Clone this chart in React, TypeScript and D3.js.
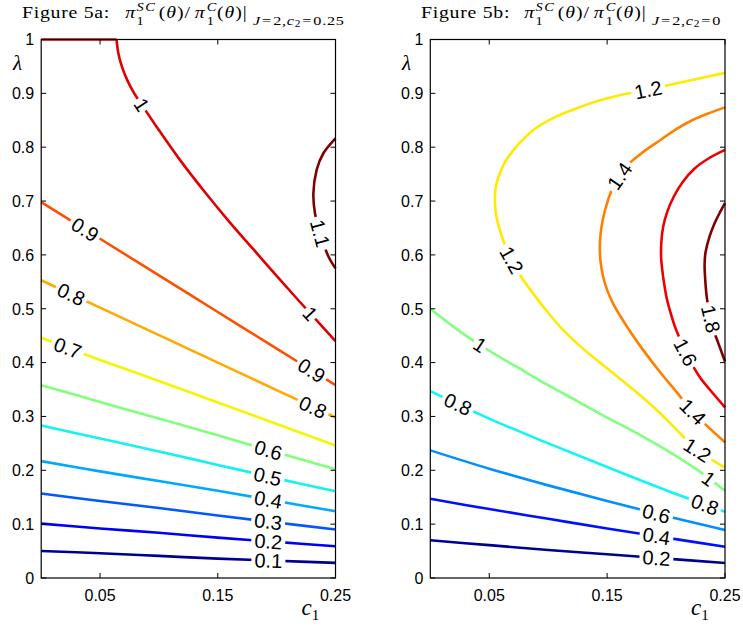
import React from "react";
import * as d3 from "d3";

type Pt = [number, number];

const C1_TICKS = [0.05, 0.15, 0.25];
const C1_LABELS = ["0.05", "0.15", "0.25"];
const LAMBDA_TICKS = [0, 0.1, 0.2, 0.3, 0.4, 0.5, 0.6, 0.7, 0.8, 0.9, 1];
const LAMBDA_LABELS = ["0", "0.1", "0.2", "0.3", "0.4", "0.5", "0.6", "0.7", "0.8", "0.9", "1"];

// ---- Figure 5a (c2 = 0.25): contour lines, [c1, lambda]
const A_COLORS = ["#000090", "#0000f5", "#0058ff", "#00a8ff", "#14f2f0", "#80ff7a", "#f5f500", "#ffaa00", "#ff5000", "#e00000", "#800000"];
const A_01: Pt[] = [[0, 0.05], [0.05, 0.046], [0.1, 0.041], [0.15, 0.036], [0.2, 0.032], [0.25, 0.028]];
const A_02: Pt[] = [[0, 0.101], [0.05, 0.092], [0.1, 0.084], [0.15, 0.075], [0.2, 0.067], [0.25, 0.059]];
const A_03: Pt[] = [[0, 0.157], [0.05, 0.143], [0.1, 0.13], [0.15, 0.116], [0.2, 0.103], [0.25, 0.09]];
const A_04: Pt[] = [[0, 0.217], [0.05, 0.198], [0.1, 0.18], [0.15, 0.162], [0.2, 0.143], [0.25, 0.124]];
const A_05: Pt[] = [[0, 0.283], [0.05, 0.259], [0.1, 0.235], [0.15, 0.21], [0.2, 0.185], [0.25, 0.161]];
const A_06: Pt[] = [[0, 0.358], [0.05, 0.327], [0.1, 0.296], [0.15, 0.265], [0.2, 0.233], [0.25, 0.202]];
const A_07: Pt[] = [[0, 0.446], [0.05, 0.405], [0.1, 0.366], [0.15, 0.326], [0.2, 0.286], [0.25, 0.246]];
const A_08: Pt[] = [[0, 0.553], [0.05, 0.502], [0.1, 0.451], [0.15, 0.4], [0.2, 0.349], [0.25, 0.298]];
const A_09: Pt[] = [[0, 0.698], [0.05, 0.63], [0.1, 0.562], [0.15, 0.494], [0.2, 0.426], [0.25, 0.358]];
const A_10_EDGE: Pt[] = [[0, 1], [0.064, 1]];
const A_10: Pt[] = [[0.064, 1], [0.0655, 0.975], [0.0685, 0.95], [0.073, 0.925], [0.079, 0.9], [0.086, 0.877], [0.098, 0.838], [0.118, 0.776], [0.14, 0.714], [0.16, 0.661], [0.18, 0.611], [0.2, 0.561], [0.225, 0.5], [0.25, 0.44]];
const A_11: Pt[] = [[0.25, 0.8165], [0.2397, 0.7887], [0.234, 0.758], [0.2312, 0.714], [0.2326, 0.677], [0.237, 0.64], [0.244, 0.597], [0.25, 0.575]];
// each entry: points, index into colours
const A_LINES: [Pt[], number][] = [[A_01, 0], [A_02, 1], [A_03, 2], [A_04, 3], [A_05, 4], [A_06, 5], [A_07, 6], [A_08, 7], [A_09, 8], [A_10_EDGE, 9], [A_10, 9], [A_11, 10]];
// label text, c1, lambda
const A_LABELS: [string, number, number][] = [
  ["1", 0.0868, 0.881], ["0.9", 0.0387, 0.652], ["0.8", 0.0259, 0.529], ["0.7", 0.023, 0.43],
  ["1", 0.2256, 0.485], ["0.9", 0.2298, 0.386], ["0.8", 0.231, 0.318], ["0.6", 0.193, 0.238],
  ["0.5", 0.193, 0.194], ["0.4", 0.193, 0.148], ["0.3", 0.193, 0.108], ["0.2", 0.193, 0.0706],
  ["0.1", 0.193, 0.0334], ["1.1", 0.237, 0.64],
];

// ---- Figure 5b (c2 = 0)
const B_COLORS = ["#000090", "#0010ff", "#0090ff", "#10f5f5", "#80ff80", "#ffea00", "#ff8000", "#ee0000", "#800000"];
const B_02: Pt[] = [[0, 0.07], [0.05, 0.061], [0.1, 0.052], [0.15, 0.044], [0.2, 0.036], [0.25, 0.028]];
const B_04: Pt[] = [[0, 0.147], [0.05, 0.128], [0.1, 0.11], [0.15, 0.092], [0.2, 0.075], [0.25, 0.058]];
const B_06: Pt[] = [[0, 0.237], [0.05, 0.203], [0.1, 0.172], [0.15, 0.143], [0.2, 0.115], [0.25, 0.089]];
const B_08: Pt[] = [[0, 0.347], [0.05, 0.296], [0.1, 0.25], [0.15, 0.206], [0.2, 0.163], [0.25, 0.123]];
const B_10: Pt[] = [[0, 0.5], [0.025, 0.458], [0.05, 0.422], [0.075, 0.39], [0.1, 0.358], [0.125, 0.328], [0.15, 0.298], [0.175, 0.269], [0.2, 0.238], [0.225, 0.203], [0.25, 0.162]];
const B_12: Pt[] = [[0.25, 0.938], [0.22, 0.924], [0.185, 0.907], [0.16, 0.896], [0.144, 0.887], [0.125, 0.873], [0.105, 0.855], [0.088, 0.833], [0.075, 0.806], [0.065, 0.778], [0.059, 0.752], [0.0555, 0.725], [0.0548, 0.7], [0.056, 0.672], [0.059, 0.646], [0.063, 0.62], [0.069, 0.591], [0.077, 0.56], [0.087, 0.529], [0.098, 0.498], [0.11, 0.467], [0.13, 0.425], [0.152, 0.386], [0.175, 0.345], [0.195, 0.306], [0.21, 0.273], [0.225, 0.24], [0.25, 0.205]];
const B_14: Pt[] = [[0.25, 0.874], [0.235, 0.862], [0.223, 0.851], [0.209, 0.834], [0.195, 0.813], [0.18, 0.79], [0.166, 0.764], [0.159, 0.742], [0.1535, 0.718], [0.1495, 0.693], [0.1465, 0.667], [0.1445, 0.64], [0.1438, 0.613], [0.1445, 0.586], [0.1466, 0.56], [0.15, 0.535], [0.155, 0.51], [0.161, 0.487], [0.168, 0.463], [0.18, 0.425], [0.195, 0.382], [0.208, 0.348], [0.22, 0.315], [0.235, 0.282], [0.25, 0.252]];
const B_16: Pt[] = [[0.25, 0.795], [0.236, 0.779], [0.224, 0.76], [0.214, 0.735], [0.2065, 0.708], [0.201, 0.68], [0.1975, 0.652], [0.196, 0.624], [0.1958, 0.596], [0.197, 0.568], [0.1985, 0.545], [0.2005, 0.52], [0.2035, 0.495], [0.207, 0.47], [0.2115, 0.445], [0.2165, 0.42], [0.2225, 0.395], [0.229, 0.372], [0.237, 0.35], [0.25, 0.317]];
const B_18: Pt[] = [[0.25, 0.696], [0.245, 0.676], [0.241, 0.658], [0.237, 0.635], [0.2335, 0.605], [0.2327, 0.584], [0.2332, 0.555], [0.2345, 0.522], [0.237, 0.49], [0.24, 0.462], [0.244, 0.438], [0.25, 0.402]];
const B_LINES: [Pt[], number][] = [[B_02, 0], [B_04, 1], [B_06, 2], [B_08, 3], [B_10, 4], [B_12, 5], [B_14, 6], [B_16, 7], [B_18, 8]];
const B_LABELS: [string, number, number][] = [
  ["1.2", 0.1848, 0.9075], ["1.4", 0.1636, 0.742], ["1.2", 0.069, 0.5905], ["1", 0.042, 0.4327],
  ["0.8", 0.0224, 0.318], ["1.8", 0.2342, 0.479], ["1.6", 0.2145, 0.417], ["1.4", 0.2215, 0.306],
  ["1.2", 0.2257, 0.2346], ["1", 0.2342, 0.179], ["0.8", 0.2328, 0.1356], ["0.6", 0.1918, 0.12],
  ["0.4", 0.1918, 0.0767], ["0.2", 0.1918, 0.0366],
];

const SANS = "'Liberation Sans', Arial, Helvetica, sans-serif";
const SERIF = "'Liberation Serif', 'Times New Roman', serif";
const Y0 = 578;
const Y1 = 39.5;

function project(pts: Pt[], p: Pt) {
  let best = { d: Infinity, x: p[0], y: p[1], ang: 0 };
  for (let i = 0; i < pts.length - 1; i++) {
    const a = pts[i], b = pts[i + 1];
    const vx = b[0] - a[0], vy = b[1] - a[1];
    const L = vx * vx + vy * vy || 1;
    const t = Math.max(0, Math.min(1, ((p[0] - a[0]) * vx + (p[1] - a[1]) * vy) / L));
    const qx = a[0] + t * vx, qy = a[1] + t * vy;
    const d = Math.hypot(p[0] - qx, p[1] - qy);
    if (d < best.d) best = { d, x: qx, y: qy, ang: (Math.atan2(vy, vx) * 180) / Math.PI };
  }
  let ang = best.ang;
  if (ang > 90) ang -= 180;
  if (ang < -90) ang += 180;
  return { d: best.d, x: best.x, y: best.y, ang };
}

// title laid out in a group stretched 1.2x horizontally (the original uses a wide TeX font)
function Title({ x, fig, val }: { x: number; fig: string; val: string }) {
  const big = 16.5, sm = 12;
  return (
    <g transform={`translate(${x},0) scale(1.2,1)`} fontFamily={SERIF} fill="#000">
      <text x={0} y={18} fontSize={big} letterSpacing={0.6}>{`Figure ${fig}:`}</text>
      <text x={86} y={18} fontSize={big} fontStyle="italic">π</text>
      <text x={95.5} y={11} fontSize={sm} fontStyle="italic" letterSpacing={1.2}>SC</text>
      <text x={95.5} y={25} fontSize={sm}>1</text>
      <text x={114} y={18} fontSize={big} letterSpacing={0.8}>
        (<tspan fontStyle="italic">θ</tspan>)/
      </text>
      <text x={144} y={18} fontSize={big} fontStyle="italic">π</text>
      <text x={154} y={11} fontSize={sm} fontStyle="italic">C</text>
      <text x={154} y={25} fontSize={sm}>1</text>
      <text x={162.5} y={18} fontSize={big} letterSpacing={0.8}>
        (<tspan fontStyle="italic">θ</tspan>)|
      </text>
      <text x={192.5} y={25} fontSize={13.5} letterSpacing={0.6}>
        <tspan fontStyle="italic">J</tspan>
        <tspan dx={1}>=</tspan>
        <tspan dx={1}>2,</tspan>
        <tspan fontStyle="italic">c</tspan>
        <tspan dy={2.5} fontSize={9.5}>2</tspan>
        <tspan dy={-2.5} dx={1}>=</tspan>
        <tspan dx={1}>{val}</tspan>
      </text>
    </g>
  );
}

function Panel({ id, x0, x1, lines, colors, labels, fig, val, titleX, lamX }: any) {
  const x = d3.scaleLinear().domain([0, 0.25]).range([x0, x1]);
  const y = d3.scaleLinear().domain([0, 1]).range([Y0, Y1]);
  const line = d3.line<Pt>().x((d) => x(d[0])).y((d) => y(d[1])).curve(d3.curveCatmullRom.alpha(0.5));
  const fs = 20;
  return (
    <g>
      <defs>
        <clipPath id={`clip-${id}`}>
          <rect x={x0 - 2} y={Y1 - 2} width={x1 - x0 + 4} height={Y0 - Y1 + 4} />
        </clipPath>
      </defs>
      <g clipPath={`url(#clip-${id})`}>
        {lines.map(([pts, ci]: [Pt[], number], i: number) => (
          <path key={i} d={line(pts) || ""} fill="none" stroke={colors[ci]} strokeWidth={2.6} strokeLinejoin="round" />
        ))}
      </g>
      {labels.map(([t, c, l]: [string, number, number], i: number) => {
        let best: any = null;
        lines.forEach(([pts]: [Pt[], number]) => {
          const sp = pts.map((p) => [x(p[0]), y(p[1])] as Pt);
          const r = project(sp, [x(c), y(l)]);
          if (!best || r.d < best.d) best = r;
        });
        const w = t.length * fs * 0.5 + 4;
        return (
          <g key={i} transform={`translate(${best.x},${best.y}) rotate(${best.ang})`}>
            <rect x={-w / 2} y={-4.5} width={w} height={9} fill="#fff" />
            <text textAnchor="middle" dy="0.36em" fontFamily={SANS} fontSize={fs} fill="#000">
              {t}
            </text>
          </g>
        );
      })}
      <rect x={x0} y={Y1} width={x1 - x0} height={Y0 - Y1} fill="none" stroke="#000" strokeWidth={1.2} />
      {LAMBDA_TICKS.map((v, i) => (
        <g key={"yt" + i}>
          <line x1={x0} x2={x0 + 5} y1={y(v)} y2={y(v)} stroke="#000" />
          <line x1={x1} x2={x1 - 5} y1={y(v)} y2={y(v)} stroke="#000" />
          <text x={x0 - 7} y={y(v)} dy="0.36em" textAnchor="end" fontFamily={SANS} fontSize={16} fill="#000">
            {LAMBDA_LABELS[i]}
          </text>
        </g>
      ))}
      {C1_TICKS.map((v, i) => (
        <g key={"xt" + i}>
          <line x1={x(v)} x2={x(v)} y1={Y0} y2={Y0 - 5} stroke="#000" />
          <line x1={x(v)} x2={x(v)} y1={Y1} y2={Y1 + 5} stroke="#000" />
          <text x={x(v)} y={Y0 + 23} textAnchor="middle" fontFamily={SANS} fontSize={16} fill="#000">
            {C1_LABELS[i]}
          </text>
        </g>
      ))}
      <text x={lamX} y={70} fontFamily={SERIF} fontStyle="italic" fontSize={21} fill="#000">λ</text>
      <text x={x1 - 34} y={615} fontFamily={SERIF} fontStyle="italic" fontSize={23} fill="#000">
        c<tspan dy={5} fontSize={15} fontStyle="normal">1</tspan>
      </text>
      <Title x={titleX} fig={fig} val={val} />
    </g>
  );
}

export default function App() {
  return (
    <svg width={743} height={626} viewBox="0 0 743 626" style={{ position: "absolute", left: 0, top: 0, background: "#fff" }}>
      <rect width={743} height={626} fill="#fff" />
      <Panel id="a" x0={41.2} x1={335.5} lines={A_LINES} colors={A_COLORS} labels={A_LABELS} fig="5a" val="0.25" titleX={22} lamX={13} />
      <Panel id="b" x0={430.3} x1={725} lines={B_LINES} colors={B_COLORS} labels={B_LABELS} fig="5b" val="0" titleX={421} lamX={402} />
    </svg>
  );
}
